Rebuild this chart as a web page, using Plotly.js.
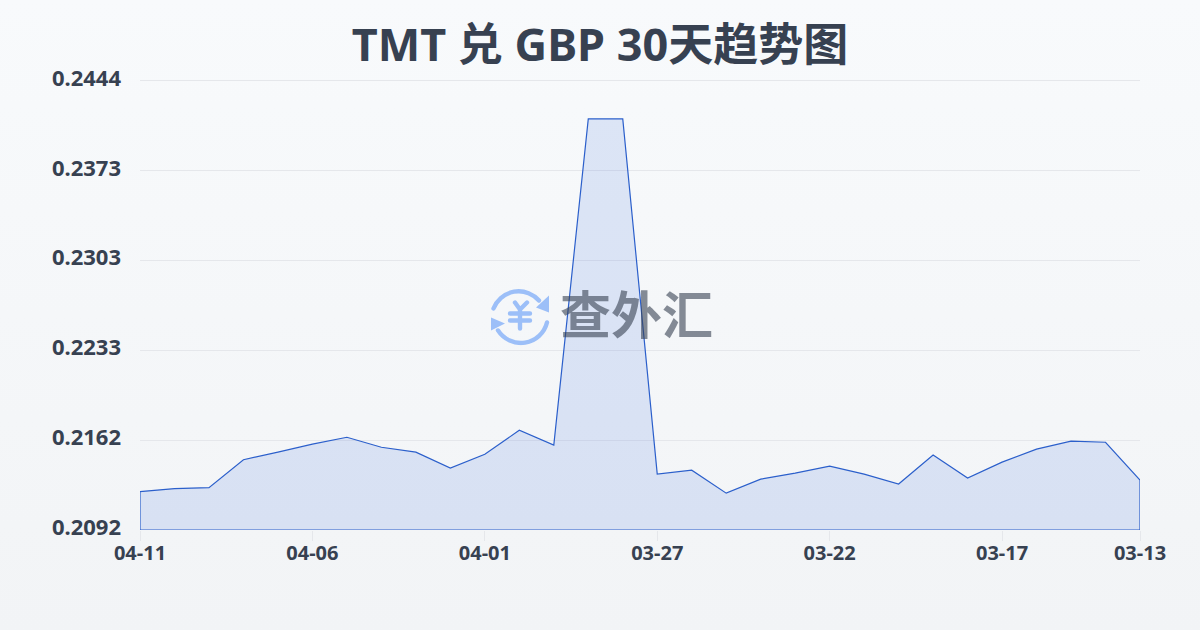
<!DOCTYPE html>
<html><head><meta charset="utf-8">
<script src="https://cdn.plot.ly/plotly-3.0.1.min.js"></script>
<style>
html,body{margin:0;padding:0;width:1200px;height:630px;overflow:hidden;background:linear-gradient(180deg,#f8fafc 0%,#f2f4f6 100%);}
#chart{width:1200px;height:630px;}
</style></head><body><div id="chart"></div>
<script>
const titleText = 'TMT 兑 GBP 30天趋势图';
const dates = ['04-11','04-10','04-09','04-08','04-07','04-06','04-05','04-04','04-03','04-02','04-01','03-31','03-30','03-29','03-28','03-27','03-26','03-25','03-24','03-23','03-22','03-21','03-20','03-19','03-18','03-17','03-16','03-15','03-14','03-13'];
const rates = [0.21221,0.21245,0.21252,0.21471,0.21530,0.21593,0.21647,0.21569,0.21530,0.21405,0.21514,0.21702,0.21585,0.24143,0.24143,0.21358,0.21389,0.21209,0.21319,0.21366,0.21421,0.21358,0.21280,0.21507,0.21327,0.21452,0.21554,0.21616,0.21608,0.21311];
const yTicks = [0.2092,0.2162,0.2233,0.2303,0.2373,0.2444];
const yTickPositions = [0.2092,0.21624,0.22328,0.23032,0.23736,0.2444];
const xTickLabels = ['04-11','04-06','04-01','03-27','03-22','03-17','03-13'];
const baseline = 0.2092;
const top_ = 0.2444;

const idx = dates.map((d,i)=>i);
const xs = idx.concat([idx[idx.length-1], 0, 0]);
const ys = rates.concat([baseline, baseline, rates[0]]);
const txt = '#374151';
const fam = '"Noto Sans","Noto Sans CJK SC",sans-serif';
const logo = 'data:image/svg+xml;utf8,' + encodeURIComponent(
 '<svg xmlns="http://www.w3.org/2000/svg" viewBox="0 0 60 60" width="60" height="60">'+
 '<g fill="none" stroke="#9cbff8" stroke-width="4.4" stroke-linecap="round" stroke-linejoin="round">'+
 '<path d="M3.5 23 A27 27 0 0 1 49 15"/>'+
 '<path d="M57 37 A27 27 0 0 1 8 45"/>'+
 '<path d="M25 17 L30 24 L37 17 M30 24 V43 M20 28 H40 M20 35 H40"/>'+
 '</g>'+
 '<path d="M59 10 L59 27 L46 22 Z" fill="#9cbff8"/><path d="M1 32 L1 45 L15 38 Z" fill="#9cbff8"/>'+
 '</svg>');
Plotly.newPlot('chart',[{
  x: xs, y: ys, type:'scatter', mode:'lines', fill:'toself', cliponaxis:false,
  fillcolor:'rgba(66,116,222,0.15)',
  line:{color:'#2b5fcb',width:1.2,shape:'linear'}, hoverinfo:'skip', showlegend:false
}],{
  width:1200,height:630,
  paper_bgcolor:'rgba(0,0,0,0)',plot_bgcolor:'rgba(0,0,0,0)',
  margin:{l:140,r:60,t:80.5,b:99.5},
  showlegend:false,
  title:{text:titleText,x:0.5,xanchor:'center',y:0.928,yanchor:'middle',font:{family:fam,size:45,color:txt,weight:700}},
  xaxis:{range:[0,29],type:'linear',tickmode:'array',tickvals:[0,5,10,15,20,25,29],ticktext:xTickLabels,
    showgrid:false,zeroline:false,showline:false,ticks:'outside',ticklen:10,tickwidth:1,tickcolor:'#e5e7eb',
    tickfont:{family:fam,size:20,color:txt,weight:700},ticklabelstandoff:-5},
  yaxis:{range:[baseline,top_],type:'linear',tickmode:'array',tickvals:yTickPositions,ticktext:yTicks.map(v=>v.toFixed(4)),
    showgrid:true,gridcolor:'#e5e7eb',gridwidth:1,zeroline:false,showline:false,ticks:'',
    tickfont:{family:fam,size:22,color:txt,weight:700},ticklabelstandoff:18,ticklabelshift:-3},
  shapes:[{type:'line',xref:'paper',yref:'paper',x0:0,x1:1,y0:1+0.5/450,y1:1+0.5/450,line:{color:'#e5e7eb',width:1},layer:'below'}],
  annotations:[{xref:'paper',yref:'paper',x:(636-140)/1000,y:(530-312)/450,text:'查外汇',showarrow:false,xanchor:'center',yanchor:'middle',
    font:{family:'"Noto Sans CJK SC",sans-serif',size:51,color:'rgba(55,65,81,0.6)',weight:700}}],
  images:[{source:logo,xref:'paper',yref:'paper',x:(490-140)/1000,y:(530-285)/450,sizex:60/1000,sizey:60/450,xanchor:'left',yanchor:'top',sizing:'stretch',layer:'above'}]
},{displayModeBar:false,staticPlot:true});
</script></body></html>
